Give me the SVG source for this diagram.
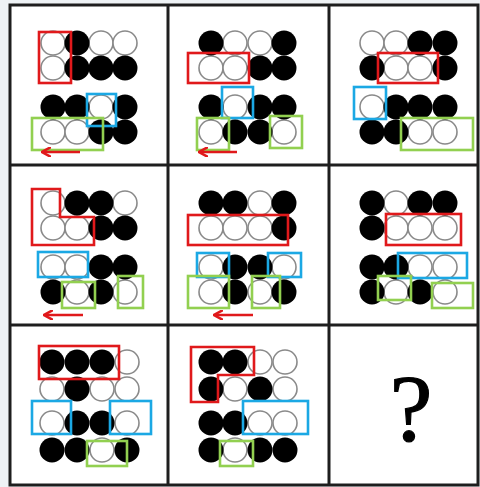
<svg xmlns="http://www.w3.org/2000/svg" width="480" height="487" viewBox="0 0 480 487">
<defs>
<style>
.w{fill:#fff;stroke:#8a8a8a;stroke-width:1.6}
.b{fill:#000}
.r{fill:none;stroke:#e0191b;stroke-width:2.6}
.u{fill:none;stroke:#1ba8e4;stroke-width:2.6}
.g{fill:none;stroke:#92d050;stroke-width:2.6}
.ar{fill:none;stroke:#e0191b;stroke-width:2.6}
.grid{fill:none;stroke:#1e1e1e;stroke-width:3}
</style>
<marker id="ah" viewBox="0 0 10 10" refX="8" refY="5" markerWidth="4" markerHeight="4" orient="auto" markerUnits="strokeWidth">
<path d="M0,0 L9,5 L0,10" fill="none" stroke="#e0191b" stroke-width="2.4"/>
</marker>
</defs>
<rect x="0" y="0" width="480" height="487" fill="#eef2f5"/>
<rect x="10" y="5" width="468" height="480" fill="#fff"/>

<g id="cell1">
<circle class="w" cx="53" cy="43" r="12"/><circle class="w" cx="101" cy="43" r="12"/><circle class="w" cx="125" cy="43" r="12"/>
<circle class="w" cx="53" cy="68" r="12"/>
<circle class="w" cx="101" cy="107" r="12"/>
<circle class="w" cx="53" cy="132" r="12"/><circle class="w" cx="77" cy="132" r="12"/>
<circle class="b" cx="77" cy="43" r="12.5"/>
<circle class="b" cx="77" cy="68" r="12.5"/><circle class="b" cx="101" cy="68" r="12.5"/><circle class="b" cx="125" cy="68" r="12.5"/>
<circle class="b" cx="53" cy="107" r="12.5"/><circle class="b" cx="77" cy="107" r="12.5"/><circle class="b" cx="125" cy="107" r="12.5"/>
<circle class="b" cx="101" cy="132" r="12.5"/><circle class="b" cx="125" cy="132" r="12.5"/>
<rect class="r" x="39" y="32" width="32" height="51"/>
<rect class="u" x="87" y="94" width="29" height="32"/>
<rect class="g" x="32" y="118" width="71" height="32"/>
</g>

<g id="cell2">
<circle class="w" cx="235" cy="43" r="12"/><circle class="w" cx="260" cy="43" r="12"/>
<circle class="w" cx="211" cy="68" r="12"/><circle class="w" cx="235" cy="68" r="12"/>
<circle class="w" cx="235" cy="107" r="12"/>
<circle class="w" cx="211" cy="132" r="12"/><circle class="w" cx="284" cy="132" r="12"/>
<circle class="b" cx="211" cy="43" r="12.5"/><circle class="b" cx="284" cy="43" r="12.5"/>
<circle class="b" cx="260" cy="68" r="12.5"/><circle class="b" cx="284" cy="68" r="12.5"/>
<circle class="b" cx="211" cy="107" r="12.5"/><circle class="b" cx="260" cy="107" r="12.5"/><circle class="b" cx="284" cy="107" r="12.5"/>
<circle class="b" cx="235" cy="132" r="12.5"/><circle class="b" cx="260" cy="132" r="12.5"/>
<rect class="r" x="188" y="53" width="61" height="30"/>
<rect class="u" x="222" y="87" width="31" height="31"/>
<rect class="g" x="197" y="118" width="32" height="32"/>
<rect class="g" x="270" y="116" width="32" height="32"/>
</g>

<g id="cell3">
<circle class="w" cx="372" cy="43" r="12"/><circle class="w" cx="396" cy="43" r="12"/>
<circle class="w" cx="396" cy="68" r="12"/><circle class="w" cx="420" cy="68" r="12"/>
<circle class="w" cx="372" cy="107" r="12"/>
<circle class="w" cx="420" cy="132" r="12"/><circle class="w" cx="445" cy="132" r="12"/>
<circle class="b" cx="420" cy="43" r="12.5"/><circle class="b" cx="445" cy="43" r="12.5"/>
<circle class="b" cx="372" cy="68" r="12.5"/><circle class="b" cx="445" cy="68" r="12.5"/>
<circle class="b" cx="396" cy="107" r="12.5"/><circle class="b" cx="420" cy="107" r="12.5"/><circle class="b" cx="445" cy="107" r="12.5"/>
<circle class="b" cx="372" cy="132" r="12.5"/><circle class="b" cx="396" cy="132" r="12.5"/>
<rect class="r" x="378" y="53" width="60" height="30"/>
<rect class="u" x="354" y="87" width="32" height="32"/>
<rect class="g" x="401" y="118" width="72" height="32"/>
</g>

<g id="cell4">
<circle class="w" cx="53" cy="203" r="12"/><circle class="w" cx="125" cy="203" r="12"/>
<circle class="w" cx="53" cy="228" r="12"/><circle class="w" cx="77" cy="228" r="12"/>
<circle class="w" cx="53" cy="267" r="12"/><circle class="w" cx="77" cy="267" r="12"/>
<circle class="w" cx="77" cy="292" r="12"/><circle class="w" cx="125" cy="292" r="12"/>
<circle class="b" cx="77" cy="203" r="12.5"/><circle class="b" cx="101" cy="203" r="12.5"/>
<circle class="b" cx="101" cy="228" r="12.5"/><circle class="b" cx="125" cy="228" r="12.5"/>
<circle class="b" cx="101" cy="267" r="12.5"/><circle class="b" cx="125" cy="267" r="12.5"/>
<circle class="b" cx="53" cy="292" r="12.5"/><circle class="b" cx="101" cy="292" r="12.5"/>
<polygon class="r" points="32,189 60,189 60,217 94,217 94,245 32,245"/>
<rect class="u" x="38" y="252" width="50" height="25"/>
<rect class="g" x="62" y="282" width="33" height="26"/>
<rect class="g" x="118" y="276" width="25" height="32"/>
</g>

<g id="cell5">
<circle class="w" cx="260" cy="203" r="12"/>
<circle class="w" cx="211" cy="228" r="12"/><circle class="w" cx="235" cy="228" r="12"/><circle class="w" cx="260" cy="228" r="12"/>
<circle class="w" cx="211" cy="267" r="12"/><circle class="w" cx="284" cy="267" r="12"/>
<circle class="w" cx="211" cy="292" r="12"/><circle class="w" cx="260" cy="292" r="12"/>
<circle class="b" cx="211" cy="203" r="12.5"/><circle class="b" cx="235" cy="203" r="12.5"/><circle class="b" cx="284" cy="203" r="12.5"/>
<circle class="b" cx="284" cy="228" r="12.5"/>
<circle class="b" cx="235" cy="267" r="12.5"/><circle class="b" cx="260" cy="267" r="12.5"/>
<circle class="b" cx="235" cy="292" r="12.5"/><circle class="b" cx="284" cy="292" r="12.5"/>
<rect class="r" x="188" y="215" width="100" height="30"/>
<rect class="u" x="197" y="253" width="32" height="24"/>
<rect class="u" x="268" y="253" width="33" height="24"/>
<rect class="g" x="188" y="276" width="41" height="32"/>
<rect class="g" x="252" y="276" width="28" height="32"/>
</g>

<g id="cell6">
<circle class="w" cx="396" cy="203" r="12"/>
<circle class="w" cx="396" cy="228" r="12"/><circle class="w" cx="420" cy="228" r="12"/><circle class="w" cx="445" cy="228" r="12"/>
<circle class="w" cx="420" cy="267" r="12"/><circle class="w" cx="445" cy="267" r="12"/>
<circle class="w" cx="396" cy="292" r="12"/><circle class="w" cx="445" cy="292" r="12"/>
<circle class="b" cx="372" cy="203" r="12.5"/><circle class="b" cx="420" cy="203" r="12.5"/><circle class="b" cx="445" cy="203" r="12.5"/>
<circle class="b" cx="372" cy="228" r="12.5"/>
<circle class="b" cx="372" cy="267" r="12.5"/><circle class="b" cx="396" cy="267" r="12.5"/>
<circle class="b" cx="372" cy="292" r="12.5"/><circle class="b" cx="420" cy="292" r="12.5"/>
<rect class="r" x="386" y="214" width="75" height="31"/>
<rect class="u" x="398" y="253" width="69" height="25"/>
<rect class="g" x="378" y="276" width="33" height="24"/>
<rect class="g" x="432" y="283" width="41" height="25"/>
</g>

<g id="cell7">
<circle class="w" cx="127" cy="362" r="12"/>
<circle class="w" cx="52" cy="389" r="12"/><circle class="w" cx="102" cy="389" r="12"/><circle class="w" cx="127" cy="389" r="12"/>
<circle class="w" cx="52" cy="423" r="12"/><circle class="w" cx="127" cy="423" r="12"/>
<circle class="w" cx="102" cy="450" r="12"/>
<circle class="b" cx="52" cy="362" r="12.5"/><circle class="b" cx="77" cy="362" r="12.5"/><circle class="b" cx="102" cy="362" r="12.5"/>
<circle class="b" cx="77" cy="389" r="12.5"/>
<circle class="b" cx="77" cy="423" r="12.5"/><circle class="b" cx="102" cy="423" r="12.5"/>
<circle class="b" cx="52" cy="450" r="12.5"/><circle class="b" cx="77" cy="450" r="12.5"/><circle class="b" cx="127" cy="450" r="12.5"/>
<rect class="r" x="39" y="346" width="80" height="33"/>
<rect class="u" x="32" y="401" width="39" height="33"/>
<rect class="u" x="110" y="401" width="41" height="33"/>
<rect class="g" x="87" y="441" width="40" height="25"/>
</g>

<g id="cell8">
<circle class="w" cx="260" cy="362" r="12"/><circle class="w" cx="285" cy="362" r="12"/>
<circle class="w" cx="235" cy="389" r="12"/><circle class="w" cx="285" cy="389" r="12"/>
<circle class="w" cx="260" cy="423" r="12"/><circle class="w" cx="285" cy="423" r="12"/>
<circle class="w" cx="235" cy="450" r="12"/>
<circle class="b" cx="211" cy="362" r="12.5"/><circle class="b" cx="235" cy="362" r="12.5"/>
<circle class="b" cx="211" cy="389" r="12.5"/><circle class="b" cx="260" cy="389" r="12.5"/>
<circle class="b" cx="211" cy="423" r="12.5"/><circle class="b" cx="235" cy="423" r="12.5"/>
<circle class="b" cx="211" cy="450" r="12.5"/><circle class="b" cx="260" cy="450" r="12.5"/><circle class="b" cx="285" cy="450" r="12.5"/>
<polygon class="r" points="191,347 254,347 254,375 218,375 218,402 191,402"/>
<rect class="u" x="243" y="401" width="65" height="33"/>
<rect class="g" x="220" y="441" width="33" height="25"/>
</g>

<g id="cell9">
<text x="411" y="441" font-family="Liberation Serif, DejaVu Serif, serif" font-size="96" text-anchor="middle" fill="#000" stroke="#000" stroke-width="1.2">?</text>
</g>

<g id="arrows">
<line class="ar" x1="80" y1="152" x2="43" y2="152" marker-end="url(#ah)"/>
<line class="ar" x1="237" y1="152" x2="200" y2="152" marker-end="url(#ah)"/>
<line class="ar" x1="83" y1="315" x2="45" y2="315" marker-end="url(#ah)"/>
<line class="ar" x1="253" y1="315" x2="215" y2="315" marker-end="url(#ah)"/>
</g>

<g id="grid">
<rect class="grid" x="10" y="5" width="468" height="480"/>
<line class="grid" x1="168" y1="5" x2="168" y2="485"/>
<line class="grid" x1="329" y1="5" x2="329" y2="485"/>
<line class="grid" x1="10" y1="165" x2="478" y2="165"/>
<line class="grid" x1="10" y1="325" x2="478" y2="325"/>
</g>
</svg>
